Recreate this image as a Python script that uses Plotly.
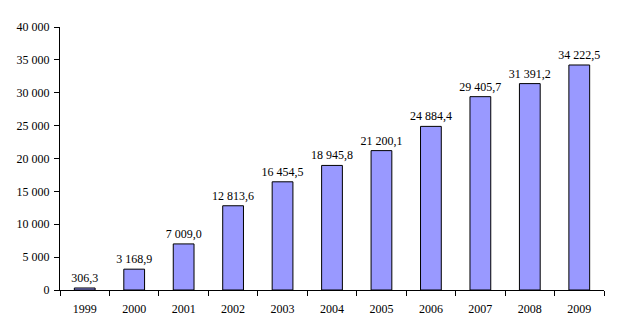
import plotly.graph_objects as go

years = ["1999", "2000", "2001", "2002", "2003", "2004", "2005", "2006", "2007", "2008", "2009"]
values = [306.3, 3168.9, 7009.0, 12813.6, 16454.5, 18945.8, 21200.1, 24884.4, 29405.7, 31391.2, 34222.5]
labels = ["306,3", "3 168,9", "7 009,0", "12 813,6", "16 454,5", "18 945,8",
          "21 200,1", "24 884,4", "29 405,7", "31 391,2", "34 222,5"]
y_ticks = [0, 5000, 10000, 15000, 20000, 25000, 30000, 35000, 40000]
y_tick_text = ["0", "5 000", "10 000", "15 000", "20 000", "25 000", "30 000", "35 000", "40 000"]

font = dict(family="Liberation Serif, Times New Roman, serif", size=12, color="black")

fig = go.Figure(go.Bar(
    x=years, y=values,
    text=labels, textposition="outside", cliponaxis=False,
    constraintext="none", textangle=0,
    textfont=font,
    marker=dict(color="#9999FF", line=dict(color="black", width=1)),
    width=0.42,
))

fig.update_layout(
    width=619, height=335,
    margin=dict(l=60, r=15, t=27, b=45),
    paper_bgcolor="white", plot_bgcolor="white",
    font=font,
    showlegend=False,
    bargap=0.58,
)
fig.update_xaxes(
    type="category", showline=True, linecolor="black", linewidth=1,
    ticks="outside", tickson="boundaries", ticklen=5, tickcolor="black",
    showgrid=False, tickfont=font, ticklabelstandoff=8,
)
fig.update_yaxes(
    range=[0, 40000], showline=True, linecolor="black", linewidth=1,
    ticks="outside", ticklen=5, tickcolor="black",
    tickvals=y_ticks, ticktext=y_tick_text,
    showgrid=False, zeroline=False, tickfont=font, ticklabelstandoff=2,
)

fig.write_html("out.html")
